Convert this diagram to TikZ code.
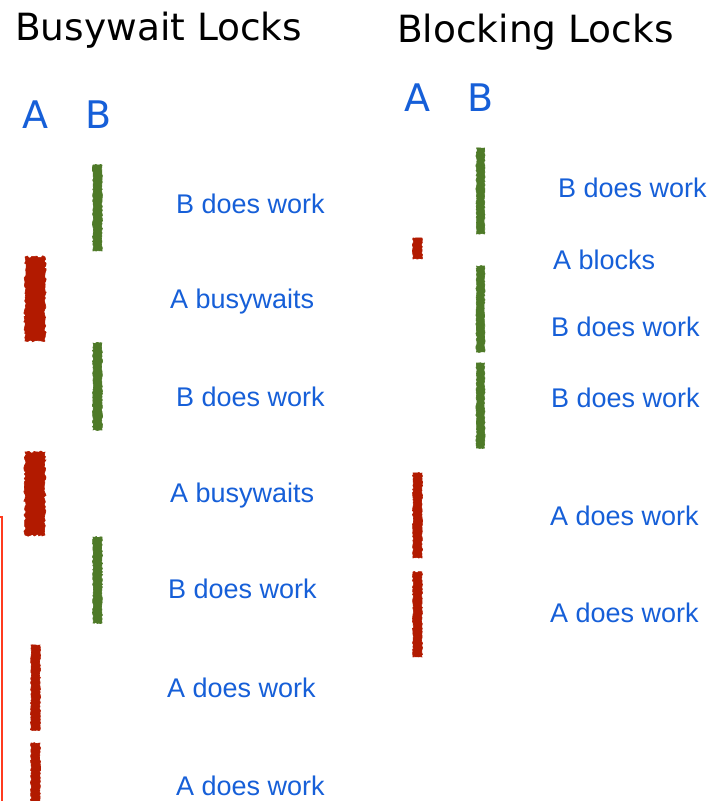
\documentclass[tikz,border=0pt]{standalone}
\usepackage{fontspec}
\setmainfont{Liberation Sans}
\newfontfamily\headfont{DejaVu Sans}
\usetikzlibrary{decorations.pathmorphing}
\definecolor{txtblue}{RGB}{22,95,216}
\definecolor{workgreen}{RGB}{78,122,40}
\definecolor{waitred}{RGB}{178,26,0}
\definecolor{frameorange}{RGB}{255,59,31}
\tikzset{
  bar/.style={rectangle, inner sep=0pt, minimum width=9pt, decorate,
    decoration={random steps, segment length=1.5pt, amplitude=0.6pt}},
  greenbar/.style={bar, fill=workgreen, draw=workgreen, line width=0.6pt},
  redbar/.style={bar, fill=waitred, draw=waitred, line width=0.6pt},
  fatbar/.style={redbar, minimum width=20pt,
    decoration={random steps, segment length=2pt, amplitude=1.2pt}},
  lbl/.style={anchor=base west, inner sep=0pt, text=txtblue,
    font=\fontsize{27}{32}\selectfont},
  heading/.style={anchor=base west, inner sep=0pt,
    font=\headfont\fontsize{37.5}{45}\selectfont},
  thread/.style={anchor=base west, inner sep=0pt, text=txtblue,
    font=\headfont\fontsize{38}{45}\selectfont}
}
\begin{document}
\begin{tikzpicture}[x=1pt, y=-1pt]
  \useasboundingbox (0,0) rectangle (709,801);

  % busywait side
  \node[heading] (bwtitle) at (15,40) {Busywait Locks};
  \node[thread] (bwA) at (22,128) {A};
  \node[thread] (bwB) at (85,128) {B};

  \node[greenbar, minimum height=86pt] (bwB1) at (97.5,208) {};
  \node[fatbar, minimum height=84pt] (bwA1) at (35,299) {};
  \node[greenbar, minimum height=87pt] (bwB2) at (97.5,386.5) {};
  \node[fatbar, minimum height=83pt] (bwA2) at (35,493.5) {};
  \node[greenbar, minimum height=86pt] (bwB3) at (97.5,580) {};
  \node[redbar, minimum height=85pt] (bwA3) at (35.5,687.5) {};
  \node[redbar, minimum height=60pt] (bwA4) at (35.5,773) {};

  \node[lbl] (bwL1) at (176,213) {B does work};
  \node[lbl] (bwL2) at (170,308) {A busywaits};
  \node[lbl] (bwL3) at (176,406) {B does work};
  \node[lbl] (bwL4) at (170,502) {A busywaits};
  \node[lbl] (bwL5) at (168,598) {B does work};
  \node[lbl] (bwL6) at (167,697) {A does work};
  \node[lbl] (bwL7) at (176,795) {A does work};

  % blocking side
  \node[heading] (blktitle) at (397,42) {Blocking Locks};
  \node[thread] (blkA) at (404,111) {A};
  \node[thread] (blkB) at (467,111) {B};

  \node[greenbar, minimum width=8pt, minimum height=86pt] (blkB1) at (480.5,191) {};
  \node[redbar, minimum height=21pt] (blkA1) at (417.5,248.5) {};
  \node[greenbar, minimum width=8pt, minimum height=86pt] (blkB2) at (480.5,309) {};
  \node[greenbar, minimum width=8pt, minimum height=85pt] (blkB3) at (480.5,405.5) {};
  \node[redbar, minimum height=85pt] (blkA2) at (417.5,515.5) {};
  \node[redbar, minimum height=85pt] (blkA3) at (417.5,614.5) {};

  \node[lbl] (blkL1) at (558,197) {B does work};
  \node[lbl] (blkL2) at (553,269) {A blocks};
  \node[lbl] (blkL3) at (551,336) {B does work};
  \node[lbl] (blkL4) at (551,407) {B does work};
  \node[lbl] (blkL5) at (550,525) {A does work};
  \node[lbl] (blkL6) at (550,622) {A does work};

  % frame edge at the left
  \draw[frameorange, line width=1.5pt] (0,517) -- (2,517) -- (2,801);
\end{tikzpicture}
\end{document}
